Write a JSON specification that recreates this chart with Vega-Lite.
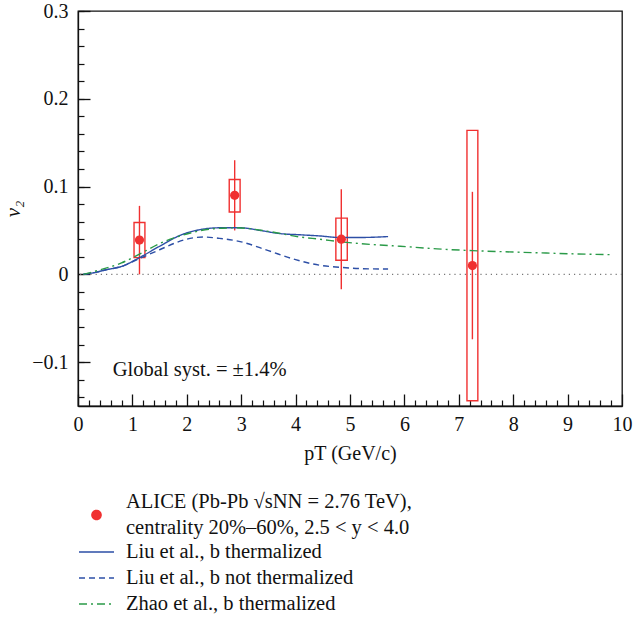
{
  "$schema": "https://vega.github.io/schema/vega-lite/v6.json",
  "width": 544,
  "height": 395,
  "autosize": {"type": "none"},
  "padding": {"left": 78, "top": 11, "right": 12, "bottom": 214},
  "background": "white",
  "config": {
    "font": "Liberation Serif",
    "view": {"stroke": "#111", "strokeWidth": 1.3},
    "axis": {"grid": false, "domainColor": "#111", "tickColor": "#111", "labelColor": "#111", "titleColor": "#111", "labelFont": "Liberation Serif", "titleFont": "Liberation Serif", "titleFontWeight": "normal", "labelFlush": false, "labelOverlap": false, "labelBound": false}
  },
  "datasets": {
    "alice": [
      {"pt": 1.13, "v2": 0.039, "statLo": 0.0, "statHi": 0.078, "systLo": 0.019, "systHi": 0.059, "boxLo": 1.03, "boxHi": 1.23},
      {"pt": 2.88, "v2": 0.090, "statLo": 0.050, "statHi": 0.130, "systLo": 0.071, "systHi": 0.108, "boxLo": 2.78, "boxHi": 2.98},
      {"pt": 4.84, "v2": 0.040, "statLo": -0.017, "statHi": 0.097, "systLo": 0.016, "systHi": 0.064, "boxLo": 4.74, "boxHi": 4.95},
      {"pt": 7.25, "v2": 0.010, "statLo": -0.074, "statHi": 0.094, "systLo": -0.144, "systHi": 0.164, "boxLo": 7.15, "boxHi": 7.35}
    ],
    "curves": [
      {"series": "Liu et al., b thermalized", "pt": 0.1, "v2": 0.0},
      {"series": "Liu et al., b thermalized", "pt": 0.3, "v2": 0.002},
      {"series": "Liu et al., b thermalized", "pt": 0.5, "v2": 0.005},
      {"series": "Liu et al., b thermalized", "pt": 0.8, "v2": 0.009},
      {"series": "Liu et al., b thermalized", "pt": 1.13, "v2": 0.019},
      {"series": "Liu et al., b thermalized", "pt": 1.5, "v2": 0.032},
      {"series": "Liu et al., b thermalized", "pt": 1.9, "v2": 0.045},
      {"series": "Liu et al., b thermalized", "pt": 2.25, "v2": 0.051},
      {"series": "Liu et al., b thermalized", "pt": 2.6, "v2": 0.053},
      {"series": "Liu et al., b thermalized", "pt": 3.0, "v2": 0.053},
      {"series": "Liu et al., b thermalized", "pt": 3.35, "v2": 0.050},
      {"series": "Liu et al., b thermalized", "pt": 3.7, "v2": 0.0465},
      {"series": "Liu et al., b thermalized", "pt": 4.1, "v2": 0.045},
      {"series": "Liu et al., b thermalized", "pt": 4.45, "v2": 0.0437},
      {"series": "Liu et al., b thermalized", "pt": 4.8, "v2": 0.042},
      {"series": "Liu et al., b thermalized", "pt": 5.2, "v2": 0.042},
      {"series": "Liu et al., b thermalized", "pt": 5.7, "v2": 0.043},
      {"series": "Liu et al., b not thermalized", "pt": 0.1, "v2": 0.0},
      {"series": "Liu et al., b not thermalized", "pt": 0.3, "v2": 0.002},
      {"series": "Liu et al., b not thermalized", "pt": 0.5, "v2": 0.005},
      {"series": "Liu et al., b not thermalized", "pt": 0.8, "v2": 0.009},
      {"series": "Liu et al., b not thermalized", "pt": 1.13, "v2": 0.018},
      {"series": "Liu et al., b not thermalized", "pt": 1.5, "v2": 0.028},
      {"series": "Liu et al., b not thermalized", "pt": 1.8, "v2": 0.036},
      {"series": "Liu et al., b not thermalized", "pt": 2.0, "v2": 0.040},
      {"series": "Liu et al., b not thermalized", "pt": 2.3, "v2": 0.0425},
      {"series": "Liu et al., b not thermalized", "pt": 2.6, "v2": 0.041},
      {"series": "Liu et al., b not thermalized", "pt": 3.0, "v2": 0.037},
      {"series": "Liu et al., b not thermalized", "pt": 3.5, "v2": 0.027},
      {"series": "Liu et al., b not thermalized", "pt": 4.0, "v2": 0.0167},
      {"series": "Liu et al., b not thermalized", "pt": 4.45, "v2": 0.0103},
      {"series": "Liu et al., b not thermalized", "pt": 4.74, "v2": 0.0084},
      {"series": "Liu et al., b not thermalized", "pt": 5.2, "v2": 0.0065},
      {"series": "Liu et al., b not thermalized", "pt": 5.7, "v2": 0.006},
      {"series": "Zhao et al., b thermalized", "pt": 0.1, "v2": 0.0},
      {"series": "Zhao et al., b thermalized", "pt": 0.4, "v2": 0.005},
      {"series": "Zhao et al., b thermalized", "pt": 0.8, "v2": 0.013},
      {"series": "Zhao et al., b thermalized", "pt": 1.13, "v2": 0.023},
      {"series": "Zhao et al., b thermalized", "pt": 1.5, "v2": 0.035},
      {"series": "Zhao et al., b thermalized", "pt": 2.0, "v2": 0.046},
      {"series": "Zhao et al., b thermalized", "pt": 2.5, "v2": 0.052},
      {"series": "Zhao et al., b thermalized", "pt": 2.9, "v2": 0.053},
      {"series": "Zhao et al., b thermalized", "pt": 3.5, "v2": 0.049},
      {"series": "Zhao et al., b thermalized", "pt": 4.08, "v2": 0.0426},
      {"series": "Zhao et al., b thermalized", "pt": 4.45, "v2": 0.040},
      {"series": "Zhao et al., b thermalized", "pt": 4.84, "v2": 0.037},
      {"series": "Zhao et al., b thermalized", "pt": 5.4, "v2": 0.034},
      {"series": "Zhao et al., b thermalized", "pt": 5.92, "v2": 0.032},
      {"series": "Zhao et al., b thermalized", "pt": 6.6, "v2": 0.029},
      {"series": "Zhao et al., b thermalized", "pt": 7.25, "v2": 0.027},
      {"series": "Zhao et al., b thermalized", "pt": 7.8, "v2": 0.0258},
      {"series": "Zhao et al., b thermalized", "pt": 8.37, "v2": 0.0247},
      {"series": "Zhao et al., b thermalized", "pt": 9.0, "v2": 0.0235},
      {"series": "Zhao et al., b thermalized", "pt": 9.78, "v2": 0.0224}
    ],
    "note": [{"pt": 0.64, "v2": -0.1095, "text": "Global syst. = ±1.4%"}]
  },
  "resolve": {"axis": {"x": "independent", "y": "independent"}},
  "layer": [
    {
      "data": {"values": [{}]},
      "mark": {"type": "rule", "color": "#777", "strokeDash": [1.2, 4], "strokeWidth": 1.2},
      "encoding": {
        "y": {"datum": 0, "type": "quantitative", "scale": {"domain": [-0.15, 0.3], "nice": false, "zero": false},
          "axis": {"orient": "left", "values": [-0.14, -0.12, -0.1, -0.08, -0.06, -0.04, -0.02, 0, 0.02, 0.04, 0.06, 0.08, 0.1, 0.12, 0.14, 0.16, 0.18, 0.2, 0.22, 0.24, 0.26, 0.28, 0.3], "tickSize": -6, "tickWidth": 1.2, "labels": false, "domain": false, "title": null}}
      }
    },
    {
      "data": {"name": "alice"},
      "mark": {"type": "rect", "fill": null, "fillOpacity": 0, "stroke": "#f03030", "strokeWidth": 1.4},
      "encoding": {
        "x": {"field": "boxLo", "type": "quantitative", "scale": {"domain": [0, 10], "nice": false},
          "axis": {"orient": "bottom", "values": [0.2, 0.4, 0.6, 0.8, 1.2, 1.4, 1.6, 1.8, 2.2, 2.4, 2.6, 2.8, 3.2, 3.4, 3.6, 3.8, 4.2, 4.4, 4.6, 4.8, 5.2, 5.4, 5.6, 5.8, 6.2, 6.4, 6.6, 6.8, 7.2, 7.4, 7.6, 7.8, 8.2, 8.4, 8.6, 8.8, 9.2, 9.4, 9.6, 9.8], "tickSize": -6, "tickWidth": 1.2, "labels": false, "domain": false, "title": null}},
        "x2": {"field": "boxHi"},
        "y": {"field": "systLo", "type": "quantitative", "axis": null},
        "y2": {"field": "systHi"}
      }
    },
    {
      "data": {"name": "alice"},
      "mark": {"type": "rule", "color": "#f03030", "strokeWidth": 1.4},
      "encoding": {
        "x": {"field": "pt", "type": "quantitative", "axis": null},
        "y": {"field": "statLo", "type": "quantitative", "axis": null},
        "y2": {"field": "statHi"}
      }
    },
    {
      "data": {"name": "curves"},
      "mark": {"type": "line", "strokeWidth": 1.4, "interpolate": "monotone"},
      "encoding": {
        "x": {"field": "pt", "type": "quantitative", "scale": {"domain": [0, 10], "nice": false},
          "axis": {"orient": "bottom", "values": [0, 1, 2, 3, 4, 5, 6, 7, 8, 9, 10], "tickSize": -12, "tickWidth": 1.3, "labelPadding": 20, "labelFontSize": 20, "domainWidth": 1.3, "title": "pT (GeV/c)", "titleFontSize": 20, "titlePadding": 9}},
        "y": {"field": "v2", "type": "quantitative", "scale": {"domain": [-0.15, 0.3], "nice": false, "zero": false},
          "axis": {"orient": "left", "values": [-0.1, 0, 0.1, 0.2, 0.3], "tickSize": -12, "tickWidth": 1.3, "labelPadding": 22, "labelFontSize": 20, "domainWidth": 1.3, "labelExpr": "datum.value == 0 ? '0' : format(datum.value, '.1f')", "title": "v₂", "titleFontSize": 21, "titleFontStyle": "italic", "titlePadding": 8}},
        "color": {"field": "series", "type": "nominal",
          "scale": {"domain": ["ALICE", "Liu et al., b thermalized", "Liu et al., b not thermalized", "Zhao et al., b thermalized"], "range": ["#f03030", "#2d4fa6", "#2d4fa6", "#2a9a48"]},
          "legend": {
            "orient": "none", "legendX": 0, "legendY": 491, "title": null, "direction": "vertical",
            "labelFont": "Liberation Serif", "labelFontSize": 20.5, "labelColor": "#111", "labelLimit": 0,
            "symbolType": "stroke", "symbolSize": 1225, "symbolStrokeWidth": 1.4, "labelOffset": 11, "rowPadding": 0, "clipHeight": 26,
            "labelExpr": "datum.value === 'ALICE' ? ['ALICE (Pb-Pb √sNN = 2.76 TeV),', 'centrality 20%–60%, 2.5 < y < 4.0'] : datum.label",
            "encode": {
              "labels": {"update": {"lineHeight": {"value": 26}, "dy": {"signal": "datum.value === 'ALICE' ? -13 : 0"}}},
              "symbols": {"update": {
                "shape": {"signal": "datum.value === 'ALICE' ? 'circle' : 'stroke'"},
                "size": {"signal": "datum.value === 'ALICE' ? 85 : 1225"},
                "fill": {"signal": "datum.value === 'ALICE' ? '#f03030' : 'transparent'"},
                "stroke": {"signal": "datum.value === 'ALICE' ? 'transparent' : (datum.value === 'Zhao et al., b thermalized' ? '#2a9a48' : '#2d4fa6')"},
                "strokeDash": {"signal": "datum.value === 'Liu et al., b not thermalized' ? [6, 4] : (datum.value === 'Zhao et al., b thermalized' ? [8, 4, 2, 4] : [1, 0])"},
                "opacity": {"value": 1}
              }}
            }
          }},
        "strokeDash": {"field": "series", "type": "nominal",
          "scale": {"domain": ["ALICE", "Liu et al., b thermalized", "Liu et al., b not thermalized", "Zhao et al., b thermalized"], "range": [[1, 0], [1, 0], [6, 4], [8, 4, 2, 4]]},
          "legend": null}
      }
    },
    {
      "data": {"name": "alice"},
      "mark": {"type": "circle", "color": "#f03030", "opacity": 1, "size": 85},
      "encoding": {
        "x": {"field": "pt", "type": "quantitative", "axis": null},
        "y": {"field": "v2", "type": "quantitative", "axis": null}
      }
    },
    {
      "data": {"name": "note"},
      "mark": {"type": "text", "align": "left", "baseline": "middle", "fontSize": 20.5, "font": "Liberation Serif", "color": "#111"},
      "encoding": {
        "x": {"field": "pt", "type": "quantitative", "axis": null},
        "y": {"field": "v2", "type": "quantitative", "axis": null},
        "text": {"field": "text"}
      }
    }
  ]
}
